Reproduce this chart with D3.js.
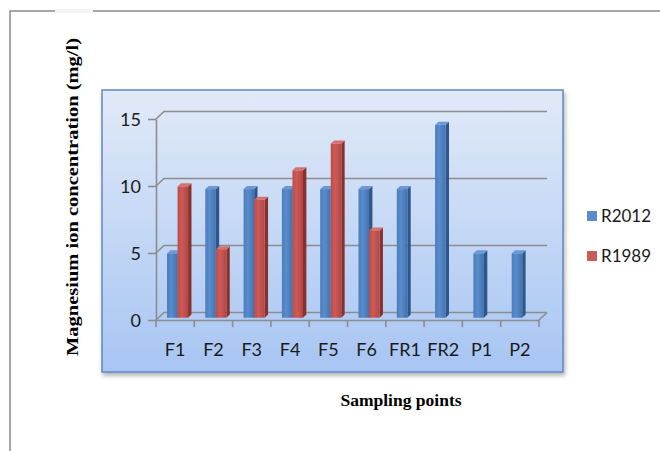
<!DOCTYPE html>
<html>
<head>
<meta charset="utf-8">
<script src="https://cdn.jsdelivr.net/npm/d3@7"></script>
<style>
  html, body { margin: 0; padding: 0; background: #fff; }
  svg { display: block; }
</style>
</head>
<body>
<svg id="chart" width="660" height="451"></svg>
<script>
// ---- data ----
const categories = ["F1", "F2", "F3", "F4", "F5", "F6", "FR1", "FR2", "P1", "P2"];
const seriesNames = ["R2012", "R1989"];
const r2012 = [4.8, 9.6, 9.6, 9.6, 9.6, 9.6, 9.6, 14.4, 4.8, 4.8];
const r1989 = [9.8, 5.1, 8.8, 11.0, 13.0, 6.5, null, null, null, null];
const yTickValues = [0, 5, 10, 15];
const yTitle = "Magnesium ion concentration (mg/l)";
const xTitle = "Sampling points";

// ---- layout ----
const svg = d3.select("#chart");
const DX = 8, DY = 7.5;          // depth projection of the floor/back wall
const D0 = 0.3, D1 = 0.72;       // bar depth range (fraction of floor depth)
const colors = {
  R2012: { front: ["#4a7dbb", "#5a8ccc", "#4172b0"], side: "#2f5688", top: "#6a9ad6" },
  R1989: { front: ["#bd4c49", "#cc5b58", "#b24643"], side: "#87312f", top: "#d8716e" }
};

const defs = svg.append("defs");
const bg = defs.append("linearGradient").attr("id", "plotbg").attr("x1", 0).attr("y1", 0).attr("x2", 0).attr("y2", 1);
bg.append("stop").attr("offset", "0%").attr("stop-color", "#e1eaf8");
bg.append("stop").attr("offset", "100%").attr("stop-color", "#a7c5f3");
const sh = defs.append("filter").attr("id", "shadow").attr("x", "-5%").attr("y", "-5%").attr("width", "115%").attr("height", "120%");
sh.append("feDropShadow").attr("dx", 1.5).attr("dy", 3).attr("stdDeviation", 2).attr("flood-color", "#000").attr("flood-opacity", 0.3);
seriesNames.forEach(s => {
  const g = defs.append("linearGradient").attr("id", "front-" + s).attr("x1", 0).attr("y1", 0).attr("x2", 1).attr("y2", 0);
  g.append("stop").attr("offset", "0%").attr("stop-color", colors[s].front[0]);
  g.append("stop").attr("offset", "40%").attr("stop-color", colors[s].front[1]);
  g.append("stop").attr("offset", "100%").attr("stop-color", colors[s].front[2]);
});

// outer frame
svg.append("path").attr("d", "M10,451 V11 H660").attr("fill", "none").attr("stroke", "#8a8a8a").attr("stroke-width", 1.5);
svg.append("rect").attr("x", 55).attr("y", 9).attr("width", 38).attr("height", 4).attr("fill", "#f4f4f4");

// plot area box
svg.append("rect").attr("x", 102).attr("y", 90).attr("width", 461).attr("height", 282)
  .attr("fill", "url(#plotbg)").attr("stroke", "#6088c0").attr("stroke-width", 1.5)
  .attr("filter", "url(#shadow)");

// scales
const x = d3.scaleBand().domain(categories).range([156, 539]).padding(0);
const xs = d3.scaleBand().domain(seriesNames).range([0, x.bandwidth()]).paddingInner(0).paddingOuter(0.815);
const y = d3.scaleLinear().domain([0, 15]).range([320, 119]);
const proj = (px, py, d) => [px + d * DX, py - d * DY];

const grid = svg.append("g");
const gridColor = "#8d8d8d";
// back wall gridlines with left-wall diagonals
yTickValues.forEach(v => {
  const p0 = [156, y(v)], p1 = proj(156, y(v), 1), p2 = proj(539, y(v), 1);
  grid.append("path").attr("d", d3.line()([p0, p1, p2]))
    .attr("fill", "none").attr("stroke", gridColor).attr("stroke-width", 1.6);
});
// floor right edge
grid.append("path").attr("d", d3.line()([[539, y(0)], proj(539, y(0), 1)]))
  .attr("fill", "none").attr("stroke", gridColor).attr("stroke-width", 1.6);

// y axis
const yAxis = svg.append("g").attr("transform", "translate(156,0)")
  .call(d3.axisLeft(y).tickValues(yTickValues).tickSize(8).tickPadding(7).tickSizeOuter(0));
yAxis.select(".domain").attr("stroke", gridColor).attr("stroke-width", 1.6);
yAxis.selectAll(".tick line").attr("stroke", gridColor).attr("stroke-width", 1.6);
yAxis.selectAll(".tick text").attr("font-family", "Lato, sans-serif").attr("font-size", 18).attr("fill", "#1a1a1a").attr("dy", "0.35em");

// x axis
const xAxis = svg.append("g").attr("transform", `translate(0,${y(0)})`)
  .call(d3.axisBottom(x).tickSize(0).tickPadding(23).tickSizeOuter(0));
xAxis.select(".domain").attr("stroke", gridColor).attr("stroke-width", 1.6);
xAxis.selectAll(".tick text").attr("font-family", "Lato, sans-serif").attr("font-size", 18).attr("fill", "#1a1a1a");
const boundaries = categories.map(c => x(c)).concat([x.range()[1]]);
xAxis.selectAll(".bound").data(boundaries).join("line").attr("class", "bound")
  .attr("x1", d => d).attr("x2", d => d).attr("y1", 0).attr("y2", 7)
  .attr("stroke", gridColor).attr("stroke-width", 1.6);

// bars
const barData = [];
categories.forEach((c, i) => {
  [[seriesNames[0], r2012[i]], [seriesNames[1], r1989[i]]].forEach(([s, v]) => {
    if (v != null) barData.push({ c, s, v });
  });
});
const bars = svg.append("g");
const dd = D1 - D0;
barData.forEach(b => {
  const bx = x(b.c) + xs(b.s);
  const w = xs.bandwidth();
  const [fx0, fyTop] = proj(bx, y(b.v), D0);
  const [, fyBot] = proj(bx, y(0), D0);
  const fx1 = fx0 + w;
  const ox = dd * DX, oy = dd * DY;
  const g = bars.append("g");
  // side face
  g.append("path").attr("d", d3.line()([[fx1, fyTop], [fx1 + ox, fyTop - oy], [fx1 + ox, fyBot - oy], [fx1, fyBot]]) + "Z")
    .attr("fill", colors[b.s].side);
  // top face
  g.append("path").attr("d", d3.line()([[fx0, fyTop], [fx1, fyTop], [fx1 + ox, fyTop - oy], [fx0 + ox, fyTop - oy]]) + "Z")
    .attr("fill", colors[b.s].top);
  // front face
  g.append("rect").attr("x", fx0).attr("y", fyTop).attr("width", w).attr("height", fyBot - fyTop)
    .attr("fill", `url(#front-${b.s})`);
});

// titles
svg.append("text").attr("transform", "translate(78,197) rotate(-90)")
  .attr("text-anchor", "middle").attr("font-family", "'Liberation Serif', serif")
  .attr("font-weight", "bold").attr("font-size", 16.5).attr("fill", "#000")
  .attr("textLength", 318).attr("lengthAdjust", "spacingAndGlyphs")
  .text(yTitle);
svg.append("text").attr("x", 401).attr("y", 406)
  .attr("text-anchor", "middle").attr("font-family", "'Liberation Serif', serif")
  .attr("font-weight", "bold").attr("font-size", 17.5).attr("fill", "#000")
  .text(xTitle);

// legend
const legend = svg.append("g");
seriesNames.forEach((s, i) => {
  legend.append("rect").attr("x", 587).attr("y", 211 + i * 40).attr("width", 10).attr("height", 10)
    .attr("fill", colors[s].front[1]);
  legend.append("text").attr("x", 601).attr("y", 222 + i * 40)
    .attr("font-family", "Lato, sans-serif").attr("font-size", 17).attr("fill", "#1a1a1a").text(s);
});
</script>
</body>
</html>
